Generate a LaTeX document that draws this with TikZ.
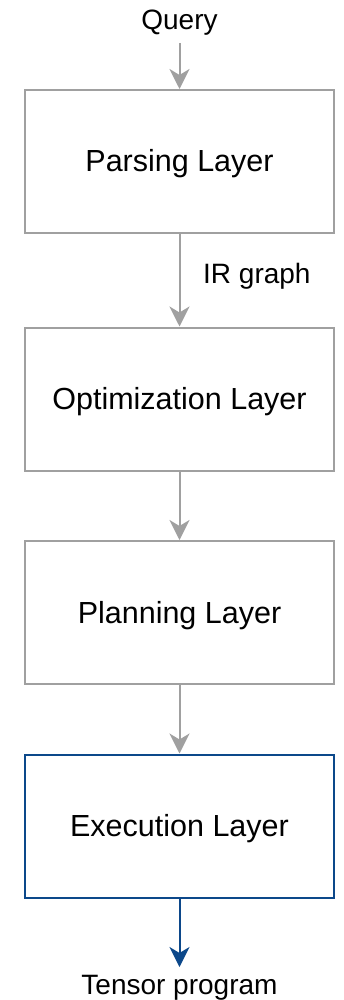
\documentclass[tikz,border=0pt]{standalone}
\usepackage{fontspec}
\setmainfont{Liberation Sans}
\usetikzlibrary{arrows.meta}
\definecolor{linegray}{RGB}{160,160,160}
\definecolor{execblue}{RGB}{12,72,138}
\tikzset{
  layer/.style={draw=linegray, line width=2pt, minimum width=309pt, minimum height=143pt,
    font=\fontsize{30.5}{36}\selectfont, text depth=3pt, text height=24pt},
  lbl/.style={font=\fontsize{28}{33}\selectfont, inner sep=2pt},
  flow/.style={draw=linegray, line width=2pt, -{Stealth[length=20pt, width=20pt, inset=6pt]}},
}
\begin{document}
\begin{tikzpicture}[x=1pt, y=-1pt]
  \useasboundingbox (0, 0) rectangle (344, 1000);
  \node[layer] (parse) at (179.5, 161.5) {Parsing Layer};
  \node[layer] (opt)   at (179.5, 399)   {Optimization Layer};
  \node[layer] (plan)  at (179.5, 612.5) {Planning Layer};
  \node[layer, draw=execblue] (exec) at (179.5, 826) {Execution Layer};
  \node[lbl] (query)  at (179.5, 23)  {Query};
  \node[lbl] (tensor) at (179.5, 988) {Tensor program};
  \node[lbl, anchor=west] (ir) at (201, 276) {IR graph};
  \coordinate (qout) at (179.5, 43);
  \coordinate (tin) at (179.5, 967);
  \draw[flow] (qout) -- (parse);
  \draw[flow] (parse) -- (opt);
  \draw[flow] (opt) -- (plan);
  \draw[flow] (plan) -- (exec);
  \draw[flow, draw=execblue, fill=execblue] (exec) -- (tin);
\end{tikzpicture}
\end{document}
